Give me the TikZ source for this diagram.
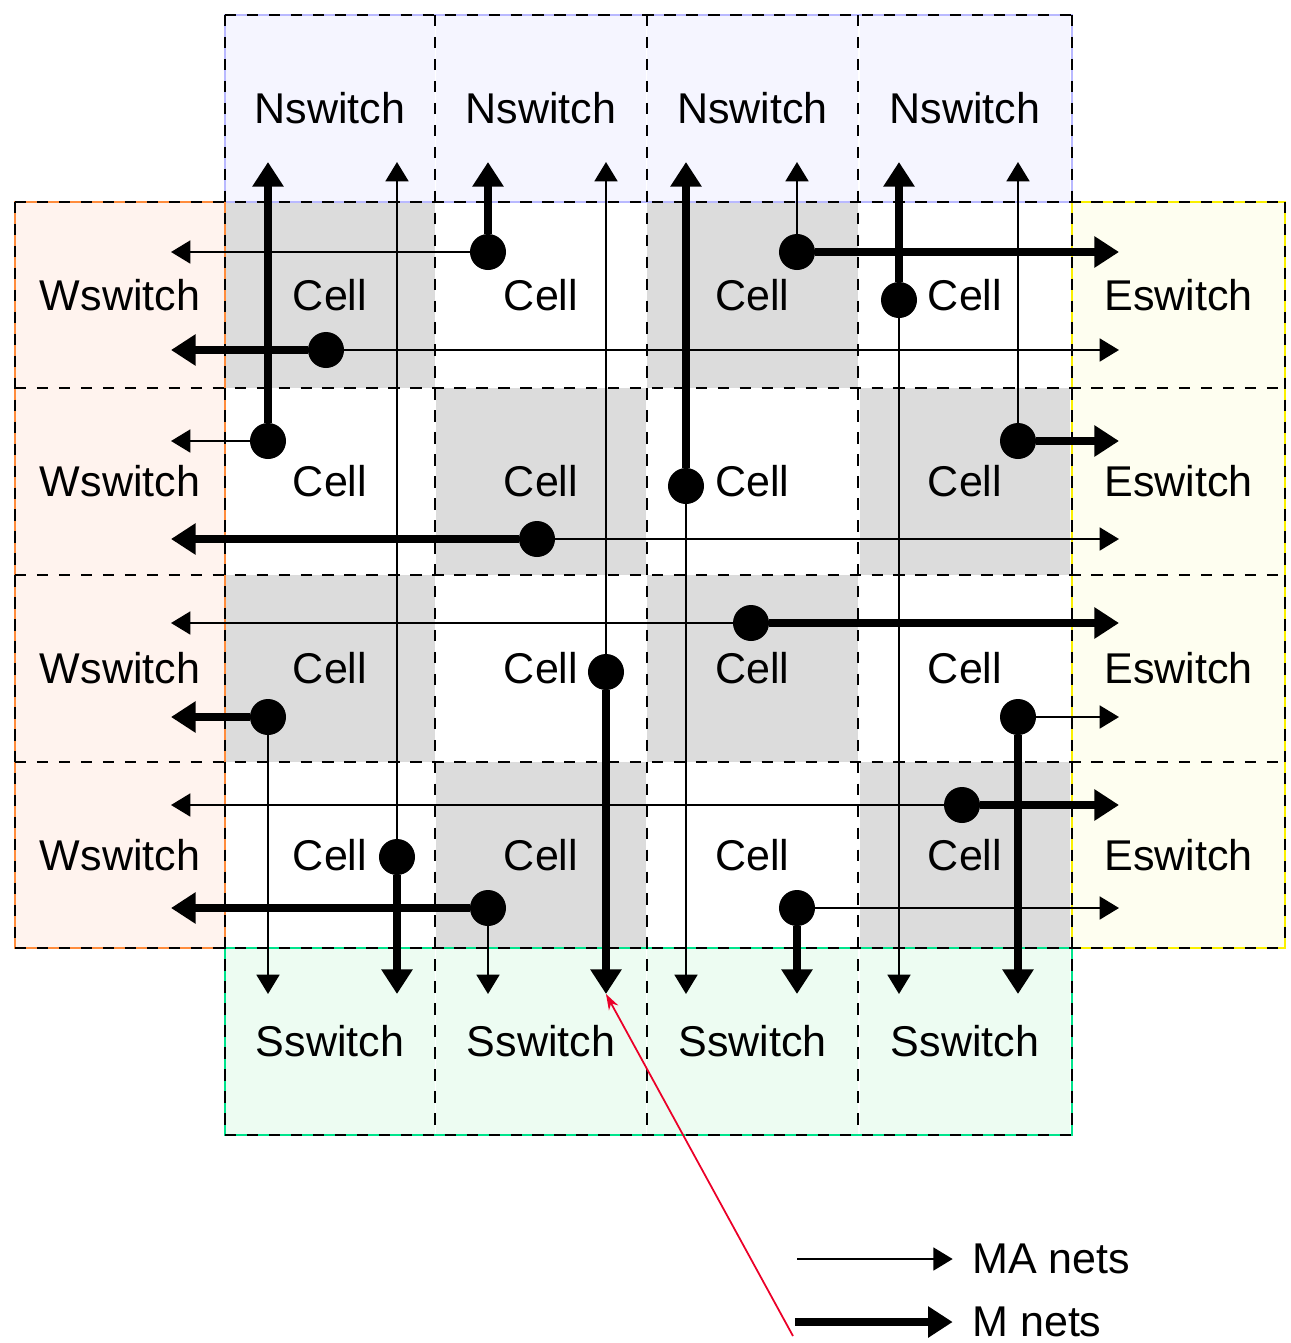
\documentclass[tikz,border=0pt]{standalone}
\usepackage{fontspec}
\setmainfont{Liberation Sans}
\usetikzlibrary{arrows.meta}

\definecolor{cellgray}{RGB}{220,220,220}
\definecolor{nfill}{RGB}{245,245,255}
\definecolor{nline}{RGB}{185,185,255}
\definecolor{wfill}{RGB}{255,243,238}
\definecolor{wline}{RGB}{255,140,60}
\definecolor{efill}{RGB}{254,254,240}
\definecolor{eline}{RGB}{250,240,0}
\definecolor{sfill}{RGB}{237,252,242}
\definecolor{sline}{RGB}{0,228,140}
\definecolor{annot}{RGB}{235,0,40}

\tikzset{
  box/.style={inner sep=0pt, minimum width=4.22cm, minimum height=3.73cm,
    font=\fontsize{24.5}{29}\selectfont},
  cell/.style={box},
  nsw/.style={box, fill=nfill},
  ssw/.style={box, fill=sfill},
  wsw/.style={box, fill=wfill},
  esw/.style={box, fill=efill},
  edge/.style={line width=1.4pt},
  grid/.style={line width=1.4pt, dash pattern=on 6.5pt off 6pt},
  manet/.style={line width=1.3pt, -{Triangle[length=11pt,width=13pt]}},
  mnet/.style={line width=4.2pt, -{Triangle[length=14pt,width=17pt]}},
  dot/.style={circle, fill, inner sep=0pt, minimum size=20.5pt},
  legend/.style={anchor=west, inner sep=0pt, font=\fontsize{24.5}{29}\selectfont},
  pointer/.style={annot, line width=1pt, -{Stealth[length=9pt,width=6pt]}}
}

\begin{document}
\begin{tikzpicture}[x=0.02cm, y=-0.02cm]
  \useasboundingbox (0,0) rectangle (1291,1343);

  % switch boxes round the array
  \foreach \cx [count=\c] in {330,541,752.5,965} {
    \node[nsw] (n\c) at (\cx,108.5) {Nswitch};
    \node[ssw] (s\c) at (\cx,1041.5) {Sswitch};
  }
  \foreach \cy [count=\r] in {295,481.5,668.5,855} {
    \node[wsw] (w\r) at (120,\cy) {Wswitch};
    \node[esw] (e\r) at (1178.5,\cy) {Eswitch};
  }

  % 4x4 cells, shaded like a chessboard
  \foreach \cx [count=\c] in {330,541,752.5,965}
    \foreach \cy [count=\r] in {295,481.5,668.5,855} {
      \ifodd\numexpr\r+\c\relax \def\cellfill{none}\else \def\cellfill{cellgray}\fi
      \node[cell, fill=\cellfill] (c\r\c) at (\cx,\cy) {Cell};
    }

  % coloured outline of each switch side
  \draw[edge, nline] (225,15) rectangle (1072,202);
  \draw[edge, wline] (15,202) rectangle (225,948);
  \draw[edge, eline] (1072,202) rectangle (1285,948);
  \draw[edge, sline] (225,948) rectangle (1072,1135);

  % dashed grid
  \foreach \y in {202,388,575,762,948}
    \draw[grid] (15,\y) -- (1285,\y);
  \foreach \y in {15,1135}
    \draw[grid] (225,\y) -- (1072,\y);
  \foreach \x in {225,435,647,858,1072}
    \draw[grid] (\x,15) -- (\x,1135);
  \foreach \x in {15,1285}
    \draw[grid] (\x,202) -- (\x,948);

  % nets: source dot, M net (thick) and MA net (thin) to the switches
  \coordinate (ntip) at (0,162);
  \coordinate (stip) at (0,994);
  \coordinate (wtip) at (171,0);
  \coordinate (etip) at (1119,0);
  \foreach \px/\py/\m/\a [count=\k] in {488/252/n/w, 797/252/e/n, 326/350/w/e, 899/300/n/s,
      268/441/n/w, 1018/441/e/n, 686/486/n/s, 537/539/w/e,
      751/623/e/w, 606/672/s/n, 268/717/w/s, 1018/717/s/e,
      962/805/e/w, 397/857/s/n, 488/908/w/s, 797/908/s/e} {
    \node[dot] (d\k) at (\px,\py) {};
    \coordinate (end n) at (d\k |- ntip);
    \coordinate (end s) at (d\k |- stip);
    \coordinate (end w) at (wtip |- d\k);
    \coordinate (end e) at (etip |- d\k);
    \draw[mnet] (d\k) -- (end \m);
    \draw[manet] (d\k) -- (end \a);
  }

  % legend
  \node[legend] (lma) at (972,1259) {MA nets};
  \node[legend] (lm) at (972,1322) {M nets};
  \coordinate (lmatail) at (797,1259);
  \coordinate (lmtail) at (795,1322);
  \draw[manet, shorten >=11pt] (lmatail) -- (lma.west);
  \draw[mnet, shorten >=11pt] (lmtail) -- (lm.west);

  % pointer to an M net
  \coordinate (ptr) at (793,1336);
  \draw[pointer] (ptr) -- (d10 |- stip);
\end{tikzpicture}
\end{document}
